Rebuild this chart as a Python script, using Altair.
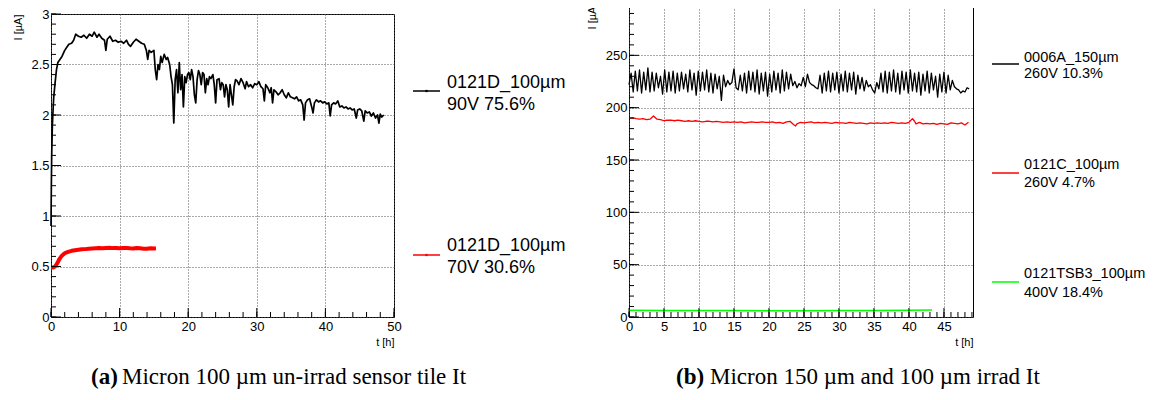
import altair as alt
import pandas as pd

FONT = "Liberation Sans"
SERIF = "Liberation Serif"

# ---------------- panel (a) data ----------------
a_t_black = [0.0, 0.05, 0.1, 0.2, 0.3, 0.4, 0.6, 0.8, 1.0, 1.3,
             1.6, 2.0, 2.3, 2.6, 3.0, 3.3, 3.6, 4.0, 4.4, 4.8,
             5.2, 5.6, 6.0, 6.3, 6.7, 7.0, 7.4, 7.8, 8.0, 8.2,
             8.6, 9.0, 9.4, 9.8, 10.2, 10.6, 11.0, 11.3, 11.6, 12.0,
             12.4, 12.8, 13.2, 13.6, 13.9, 14.1, 14.3, 14.6, 15.0, 15.2,
             15.4, 15.6, 15.8, 16.0, 16.2, 16.5, 16.8, 17.0, 17.3, 17.5,
             17.7, 17.9, 18.1, 18.3, 18.5, 18.7, 18.9, 19.1, 19.3, 19.5,
             19.7, 19.9, 20.1, 20.3, 20.5, 20.7, 20.9, 21.1, 21.3, 21.5,
             21.7, 21.9, 22.1, 22.3, 22.5, 22.7, 22.9, 23.1, 23.3, 23.6,
             23.8, 24.0, 24.2, 24.5, 24.7, 24.9, 25.1, 25.3, 25.5, 25.7,
             25.9, 26.1, 26.3, 26.5, 26.7, 26.9, 27.1, 27.4, 27.7, 28.0,
             28.3, 28.5, 28.8, 29.1, 29.4, 29.7, 30.0, 30.3, 30.6, 30.9,
             31.1, 31.3, 31.6, 31.9, 32.1, 32.3, 32.5, 32.8, 33.1, 33.4,
             33.7, 34.0, 34.3, 34.6, 34.9, 35.2, 35.5, 35.8, 36.1, 36.4,
             36.7, 36.9, 37.1, 37.4, 37.7, 38.0, 38.2, 38.4, 38.7, 39.0,
             39.3, 39.6, 39.9, 40.2, 40.5, 40.7, 40.9, 41.2, 41.5, 41.8,
             42.1, 42.4, 42.7, 43.0, 43.3, 43.6, 43.9, 44.2, 44.5, 44.7,
             45.0, 45.3, 45.6, 45.8, 46.1, 46.4, 46.7, 47.0, 47.3, 47.6,
             47.8, 48.0, 48.2, 48.5]
a_i_black = [0.9, 1.3, 1.6, 1.9, 2.05, 2.18, 2.32, 2.45, 2.52, 2.55,
             2.58, 2.64, 2.67, 2.70, 2.71, 2.74, 2.80, 2.78, 2.77, 2.79,
             2.76, 2.80, 2.78, 2.82, 2.77, 2.80, 2.76, 2.74, 2.64, 2.75,
             2.78, 2.73, 2.74, 2.72, 2.73, 2.71, 2.74, 2.70, 2.68, 2.72,
             2.75, 2.73, 2.71, 2.70, 2.64, 2.55, 2.64, 2.62, 2.64, 2.45,
             2.35, 2.50, 2.45, 2.58, 2.52, 2.60, 2.55, 2.57, 2.50, 2.38,
             2.30, 1.92, 2.35, 2.45, 2.22, 2.52, 2.25, 2.40, 2.08, 2.38,
             2.32, 2.40, 2.42, 2.35, 2.45, 2.38, 2.20, 2.12, 2.35, 2.44,
             2.40, 2.30, 2.42, 2.40, 2.22, 2.36, 2.30, 2.38, 2.36, 2.40,
             2.30, 2.12, 2.35, 2.36, 2.25, 2.32, 2.30, 2.18, 2.30, 2.25,
             2.08, 2.30, 2.20, 2.10, 2.28, 2.35, 2.34, 2.30, 2.36, 2.32,
             2.26, 2.33, 2.28, 2.30, 2.27, 2.31, 2.30, 2.33, 2.28, 2.26,
             2.14, 2.30, 2.27, 2.22, 2.27, 2.12, 2.25, 2.23, 2.20, 2.22,
             2.25, 2.20, 2.17, 2.22, 2.18, 2.17, 2.16, 2.18, 2.14, 2.15,
             2.10, 1.95, 2.12, 2.15, 2.16, 2.08, 2.02, 2.12, 2.15, 2.13,
             2.14, 2.12, 2.13, 2.11, 2.12, 1.99, 2.10, 2.12, 2.11, 2.14,
             2.08, 2.09, 2.07, 2.08, 2.06, 2.07, 2.05, 2.06, 1.97, 2.05,
             2.06, 2.04, 1.94, 2.04, 2.02, 2.03, 1.99, 2.02, 1.97, 2.00,
             1.92, 2.01, 1.98, 2.00]

a_t_red = [0.0, 0.3, 0.6, 0.9, 1.2, 1.5, 1.8, 2.1, 2.5, 3.0, 3.5, 4.0, 4.5, 5.0,
           5.5, 6.0, 6.5, 7.0, 7.5, 8.0, 8.5, 9.0, 9.5, 10.0, 10.5, 11.0, 11.5,
           12.0, 12.5, 13.0, 13.5, 14.0, 14.5, 15.0, 15.3]
a_i_red = [0.49, 0.49, 0.50, 0.53, 0.57, 0.60, 0.62, 0.635, 0.645, 0.655, 0.66,
           0.665, 0.67, 0.672, 0.675, 0.678, 0.68, 0.682, 0.68, 0.683, 0.685,
           0.682, 0.683, 0.68, 0.682, 0.684, 0.68, 0.678, 0.683, 0.68, 0.676,
           0.675, 0.68, 0.678, 0.68]

# ---------------- panel (b) data ----------------
b_step = 0.3  # sampling interval of the 0006A series [h]
b_i_black = [222, 233, 215, 235, 216, 236, 214, 234, 217, 238,
             215, 234, 216, 233, 219, 230, 213, 236, 215, 234,
             216, 235, 214, 233, 216, 234, 218, 232, 215, 236,
             217, 233, 212, 235, 216, 234, 217, 236, 215, 233,
             214, 232, 218, 230, 207, 231, 220, 226, 222, 224,
             237, 219, 217, 231, 216, 233, 214, 235, 217, 234,
             215, 236, 213, 233, 216, 234, 211, 232, 215, 235,
             217, 233, 214, 236, 216, 234, 218, 232, 221, 225,
             219, 223, 221, 229, 220, 232, 224, 222, 221, 219,
             218, 231, 214, 233, 216, 235, 215, 233, 217, 234,
             214, 232, 216, 235, 215, 233, 217, 234, 213, 231,
             218, 229, 216, 226, 220, 222, 217, 214, 224, 218,
             233, 215, 235, 214, 234, 216, 236, 215, 233, 213,
             235, 217, 234, 214, 236, 216, 233, 215, 234, 212,
             232, 216, 235, 214, 233, 217, 230, 210, 232, 215,
             234, 214, 231, 217, 226, 220, 218, 217, 214, 216,
             215, 219, 218]
b_t_black = [round(k * b_step, 2) for k in range(len(b_i_black))]

b_t_red = [0, 0.5, 1, 1.5, 2, 2.5, 3, 3.5, 4, 4.5,
           5, 5.5, 6, 6.5, 7, 7.5, 8, 8.5, 9, 9.5,
           10, 10.5, 11, 11.5, 12, 12.5, 13, 13.5, 14, 14.5,
           15, 15.5, 16, 16.5, 17, 17.5, 18, 18.5, 19, 19.5,
           20, 20.5, 21, 21.5, 22, 22.5, 23, 23.5, 23.8,
           24, 24.5, 25, 25.5, 26, 26.5, 27, 27.5, 28, 28.5,
           29, 29.5, 30, 30.5, 31, 31.5, 32, 32.5, 33, 33.5,
           34, 34.5, 35, 35.5, 36, 36.5, 37, 37.5, 38, 38.5,
           39, 39.5, 40, 40.5, 40.8,
           41, 41.5, 42, 42.5, 43, 43.5, 44, 44.5, 45, 45.5,
           46, 46.5, 47, 47.5, 48, 48.5]
b_i_red = [190, 190.5, 189.5, 189, 189.5, 188.5, 189, 192, 189, 188.5,
           187.5, 188, 188, 187.5, 188, 187.5, 187, 187.5, 187, 187.5,
           187, 186.5, 187, 187, 186.5, 187, 186.5, 186, 186.5, 186,
           186.5, 186, 186.5, 185.5, 186, 186.5, 186, 186, 186.5, 186,
           186, 186.5, 185.5, 186, 185, 186.5, 187, 184, 182.5,
           184.5, 186, 185.5, 186, 186.5, 185.5, 186, 185.5, 186, 185.5,
           185, 186, 185.5, 185.5, 185, 186, 185.5, 185, 185.5, 185,
           184.5, 185.5, 185, 185.5, 185, 185.5, 185, 186, 185.5, 185,
           185.5, 185, 186, 189.5, 187,
           184.5, 186, 184.5, 185, 184.5, 185, 184, 185, 184.5, 184,
           185.5, 185, 184.5, 185.5, 183.5, 186]

b_t_green = [0, 5, 10, 15, 20, 25, 30, 35, 40, 43.3]
b_i_green = [6.5, 6.3, 6.2, 6.1, 6.0, 6.0, 6.1, 6.2, 6.5, 6.8]

# ---------------- axis ticks & labels ----------------
a_x_ticks = [0, 10, 20, 30, 40, 50]
a_y_ticks = [0, 0.5, 1, 1.5, 2, 2.5, 3]
a_x_minor = list(range(0, 51, 2))
a_y_minor = [round(0.1 * k, 1) for k in range(31)]
b_x_ticks = [0, 5, 10, 15, 20, 25, 30, 35, 40, 45]
b_y_ticks = [0, 50, 100, 150, 200, 250, 300]
b_x_minor = list(range(0, 50))
b_y_minor = list(range(0, 301, 10))

a_legend = [("0121D_100µm", "90V 75.6%", "black"), ("0121D_100µm", "70V 30.6%", "#ff0000")]
b_legend = [("0006A_150µm", "260V 10.3%", "black"), ("0121C_100µm", "260V 4.7%", "#ff0000"),
            ("0121TSB3_100µm", "400V 18.4%", "#00ff00")]
a_caption = ("(a)", "Micron 100 µm un-irrad sensor tile It")
b_caption = ("(b)", "Micron 150 µm and 100 µm irrad It")

one = pd.DataFrame({"k": [0]})


def x_axis(values):
    return alt.Axis(values=values, title="t [h]", titleAnchor="end", titleFont=FONT,
                    titleFontSize=11, titleFontWeight="normal", titlePadding=3,
                    titleColor="black", labelFont=FONT, labelFontSize=13, labelPadding=3,
                    labelColor="black", ticks=False, tickSize=0, domain=False, grid=True,
                    gridDash=[1, 2], gridColor="#555555", gridWidth=1, format=".1~f",
                    labelFlush=False, labelOverlap=False)


def y_axis(values, tpad):
    return alt.Axis(values=values, title="I [µA]", titleAnchor="end", titleFont=FONT,
                    titleFontSize=11, titleFontWeight="normal", titlePadding=tpad,
                    titleColor="black", labelFont=FONT, labelFontSize=13, labelPadding=2,
                    labelColor="black", ticks=False, tickSize=0, domain=False, grid=True,
                    gridDash=[1, 2], gridColor="#555555", gridWidth=1, format=".1~f",
                    labelFlush=False, labelOverlap=False)


def text(x, y, s, size, font=FONT, weight="normal"):
    return alt.Chart(one).mark_text(fontSize=size, font=font, fontWeight=weight,
                                    align="left", baseline="alphabetic", color="black").encode(
        x=alt.value(x), y=alt.value(y), text=alt.value(s))


def panel(W, H, xdom, ydom, series, xt, yt, xm, ym, legend, leg_y, leg_fs, leg_dy,
          caption, cap_x, cap_y, tpad, markers):
    xs = alt.Scale(domain=xdom, nice=False, zero=False)
    ys = alt.Scale(domain=ydom, nice=False, zero=False)
    xa = x_axis(xt)
    ya = y_axis(yt, tpad)
    layers = []
    for tt, vv, col, sw in series:
        df = pd.DataFrame({"t": tt, "i": vv})
        layers.append(alt.Chart(df).mark_line(color=col, strokeWidth=sw,
                                              strokeJoin="round").encode(
            x=alt.X("t:Q", scale=xs, axis=xa), y=alt.Y("i:Q", scale=ys, axis=ya)))
    # inward ticks
    for vals, ln in ((yt, 10), (ym, 5)):
        layers.append(alt.Chart(pd.DataFrame({"i": vals})).mark_rule(
            color="black", strokeWidth=1).encode(
            y=alt.Y("i:Q", scale=ys, axis=ya), x=alt.value(0), x2=alt.value(ln)))
    for vals, ln in ((xt, 9), (xm, 5)):
        layers.append(alt.Chart(pd.DataFrame({"t": vals})).mark_rule(
            color="black", strokeWidth=1).encode(
            x=alt.X("t:Q", scale=xs, axis=xa), y=alt.value(H), y2=alt.value(H - ln)))
    # legend
    for (l1, l2, col), (ly, t1, t2) in zip(legend, leg_y):
        layers.append(alt.Chart(one).mark_rule(color=col, strokeWidth=1.5).encode(
            x=alt.value(W + 19), x2=alt.value(W + 46), y=alt.value(ly)))
        if markers:
            layers.append(alt.Chart(one).mark_square(color=col, size=5, opacity=1).encode(
                x=alt.value(W + 32.5), y=alt.value(ly)))
        layers.append(text(W + leg_dy, t1, l1, leg_fs))
        layers.append(text(W + leg_dy, t2, l2, leg_fs))
    # caption
    layers.append(text(cap_x[0], cap_y, caption[0], 23, SERIF, "bold"))
    layers.append(text(cap_x[1], cap_y, caption[1], 23, SERIF))
    return alt.layer(*layers).properties(width=W, height=H)


left = panel(
    343, 303, [0, 50], [0, 3],
    [(a_t_black, a_i_black, "black", 1.7), (a_t_red, a_i_red, "#ff0000", 4)],
    a_x_ticks, a_y_ticks, a_x_minor, a_y_minor,
    a_legend, [(77, 74, 96), (241, 237, 259)], 18, 53,
    a_caption, (40, 71), 370, 7, True)

right = panel(
    344, 314, [0, 49.15], [0, 300],
    [(b_t_black, b_i_black, "black", 1.3), (b_t_red, b_i_red, "#ff0000", 1.3),
     (b_t_green, b_i_green, "#00ff00", 1.5)],
    b_x_ticks, b_y_ticks, b_x_minor, b_y_minor,
    b_legend, [(61, 59, 75), (170, 166, 184), (279, 275, 294)], 14.5, 51,
    b_caption, (47, 81), 381, 8, False)

spacer = alt.Chart(one).mark_point(opacity=0).encode(
    x=alt.value(0), y=alt.value(0)).properties(
    width=343, height=11, view=alt.ViewBackground(stroke="transparent", fill="transparent"))

left_col = alt.vconcat(spacer, left, spacing=0, bounds="flush")

chart = alt.hconcat(left_col, right, spacing=578, bounds="flush").configure_view(
    stroke="black", strokeWidth=1).properties(
    padding={"left": 4, "top": -12, "right": 0, "bottom": 0}, background="white")

chart.save("out.html", embed_options={"renderer": "svg", "actions": False})
